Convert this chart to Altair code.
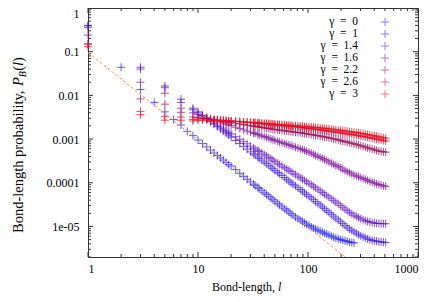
import altair as alt
import pandas as pd

FONT = "Liberation Serif"
PLUS = "M-1,0L1,0M0,-1L0,1"

gammas = ["0", "1", "1.4", "1.6", "2.2", "2.6", "3"]
colors = ["#1a1aff", "#3a12e6", "#6414c4", "#7c0c9c", "#9c0a5c", "#d40a3a", "#f0101e"]
legend_labels = ["\u03b3\u2002=\u20020", "\u03b3\u2002=\u20021", "\u03b3\u2002=\u20021.4", "\u03b3\u2002=\u20021.6",
                 "\u03b3\u2002=\u20022.2", "\u03b3\u2002=\u20022.6", "\u03b3\u2002=\u20023"]

l_small_g0 = [1, 2, 3, 4, 5, 6, 7, 8, 9]
l_small = [1, 3, 5, 7, 9]
l_dense = [10, 11, 12, 13, 14, 15, 16, 17, 18, 19, 20, 22, 24, 26, 28,
           30, 32, 33, 35, 36, 38, 40, 42, 44, 46, 48, 50, 53, 55, 58, 61, 64, 67, 70, 73,
           77, 81, 85, 89, 93, 97, 102, 107, 112, 117, 123, 129, 135, 141, 148, 155, 163, 171, 179, 188,
           197, 207, 217, 227, 238, 250, 262, 275, 288, 302, 317, 332, 348, 365, 383, 401, 420,
           441, 462, 485, 508]

p_g0_small = [0.40, 0.044, 0.0137, 0.0069, 0.0042, 0.0028, 0.0021, 0.0015, 0.0012]
p_g0 = [9.5e-4, 7.9e-4, 6.6e-4, 5.6e-4, 4.8e-4, 4.2e-4, 3.7e-4, 3.3e-4, 2.9e-4, 2.6e-4, 2.4e-4,
        2.0e-4, 1.65e-4, 1.4e-4, 1.2e-4,
        1.05e-4, 9.3e-5, 8.7e-5, 7.8e-5, 7.3e-5, 6.6e-5, 5.9e-5, 5.4e-5, 4.9e-5, 4.5e-5,
        4.1e-5, 3.8e-5, 3.4e-5, 3.1e-5, 2.8e-5, 2.55e-5, 2.35e-5, 2.15e-5, 1.95e-5, 1.8e-5,
        1.65e-5, 1.52e-5, 1.4e-5, 1.3e-5, 1.2e-5, 1.12e-5, 1.05e-5, 9.8e-6, 9.2e-6, 8.7e-6,
        8.2e-6, 7.8e-6, 7.4e-6, 7.0e-6, 6.7e-6, 6.3e-6, 6.0e-6, 5.7e-6, 5.4e-6, 5.2e-6,
        5.0e-6, 4.85e-6, 4.7e-6, 4.55e-6, 4.4e-6, 4.3e-6, 4.2e-6]

p_g1_small = [0.39, 0.044, 0.0164, 0.0082, 0.0051]
p_g1 = [4.2e-3, 3.5e-3, 2.96e-3, 2.5e-3, 2.2e-3, 1.93e-3, 1.7e-3, 1.52e-3, 1.36e-3, 1.23e-3, 1.11e-3,
        9.3e-4, 7.9e-4, 6.8e-4, 5.9e-4,
        5.1e-4, 4.6e-4, 4.3e-4, 3.9e-4, 3.6e-4, 3.3e-4, 3.0e-4, 2.75e-4, 2.5e-4, 2.3e-4,
        2.1e-4, 1.9e-4, 1.73e-4, 1.6e-4, 1.46e-4, 1.32e-4, 1.2e-4, 1.1e-4, 1.0e-4, 9.2e-5,
        8.5e-5, 7.7e-5, 7.0e-5, 6.4e-5, 5.9e-5, 5.4e-5, 4.9e-5, 4.5e-5, 4.1e-5, 3.7e-5,
        3.4e-5, 3.1e-5, 2.8e-5, 2.55e-5, 2.3e-5, 2.1e-5, 1.9e-5, 1.72e-5, 1.55e-5, 1.41e-5,
        1.28e-5, 1.16e-5, 1.05e-5, 9.6e-6, 8.8e-6, 8.1e-6, 7.5e-6,
        7.0e-6, 6.5e-6, 6.1e-6, 5.8e-6, 5.5e-6, 5.2e-6, 5.0e-6, 4.8e-6, 4.7e-6, 4.6e-6,
        4.5e-6, 4.4e-6, 4.35e-6, 4.3e-6]

p_g14_small = [0.36, 0.040, 0.015, 0.0069, 0.0047]
p_g14 = [3.96e-3, 3.4e-3, 2.96e-3, 2.6e-3, 2.3e-3, 2.07e-3, 1.87e-3, 1.7e-3, 1.55e-3, 1.42e-3, 1.31e-3,
         1.13e-3, 9.9e-4, 8.7e-4, 7.8e-4,
         6.9e-4, 6.3e-4, 5.9e-4, 5.5e-4, 5.2e-4, 4.8e-4, 4.4e-4, 4.1e-4, 3.8e-4, 3.55e-4,
         3.3e-4, 3.05e-4, 2.8e-4, 2.6e-4, 2.4e-4, 2.22e-4, 2.07e-4, 1.93e-4, 1.8e-4, 1.66e-4,
         1.54e-4, 1.42e-4, 1.31e-4, 1.22e-4, 1.13e-4, 1.05e-4, 9.7e-5, 9.0e-5, 8.3e-5, 7.7e-5,
         7.1e-5, 6.5e-5, 6.0e-5, 5.5e-5, 5.1e-5, 4.7e-5, 4.3e-5, 3.9e-5, 3.6e-5, 3.3e-5,
         3.0e-5, 2.75e-5, 2.5e-5, 2.3e-5, 2.1e-5, 1.95e-5, 1.8e-5,
         1.7e-5, 1.6e-5, 1.5e-5, 1.42e-5, 1.36e-5, 1.3e-5, 1.26e-5, 1.22e-5, 1.2e-5, 1.18e-5,
         1.17e-5, 1.16e-5, 1.155e-5, 1.15e-5]

p_g16_small = [0.24, 0.020, 0.0112, 0.0051, 0.0040]
p_g16 = [3.66e-3, 3.37e-3, 3.13e-3, 2.92e-3, 2.75e-3, 2.59e-3, 2.45e-3, 2.33e-3, 2.22e-3, 2.12e-3, 2.03e-3,
         1.87e-3, 1.74e-3, 1.63e-3, 1.53e-3,
         1.45e-3, 1.39e-3, 1.34e-3, 1.29e-3, 1.24e-3, 1.19e-3, 1.14e-3, 1.1e-3, 1.05e-3, 1.01e-3,
         9.7e-4, 9.3e-4, 8.9e-4, 8.6e-4, 8.3e-4, 7.9e-4, 7.6e-4, 7.35e-4, 7.1e-4, 6.8e-4,
         6.5e-4, 6.25e-4, 6.0e-4, 5.75e-4, 5.5e-4, 5.25e-4, 5.0e-4, 4.75e-4, 4.5e-4, 4.25e-4,
         4.0e-4, 3.8e-4, 3.6e-4, 3.4e-4, 3.2e-4, 3.0e-4, 2.8e-4, 2.65e-4, 2.5e-4, 2.35e-4,
         2.2e-4, 2.05e-4, 1.9e-4, 1.8e-4, 1.7e-4, 1.6e-4, 1.5e-4,
         1.43e-4, 1.37e-4, 1.31e-4, 1.25e-4, 1.19e-4, 1.13e-4, 1.08e-4, 1.03e-4, 9.9e-5, 9.5e-5,
         9.1e-5, 8.8e-5, 8.5e-5, 8.3e-5]

p_g22_small = [0.15, 0.0083, 0.0063, 0.0041, 0.0032]
p_g22 = [3.1e-3, 3.0e-3, 2.9e-3, 2.8e-3, 2.7e-3, 2.65e-3, 2.6e-3, 2.55e-3, 2.5e-3, 2.45e-3, 2.4e-3,
         2.3e-3, 2.22e-3, 2.15e-3, 2.08e-3,
         2.02e-3, 1.98e-3, 1.95e-3, 1.91e-3, 1.88e-3, 1.84e-3, 1.8e-3, 1.77e-3, 1.74e-3, 1.71e-3,
         1.68e-3, 1.65e-3, 1.62e-3, 1.6e-3, 1.57e-3, 1.55e-3, 1.52e-3, 1.5e-3, 1.48e-3, 1.46e-3,
         1.44e-3, 1.42e-3, 1.40e-3, 1.37e-3, 1.35e-3, 1.32e-3, 1.3e-3, 1.27e-3, 1.25e-3, 1.22e-3,
         1.2e-3, 1.17e-3, 1.15e-3, 1.12e-3, 1.1e-3, 1.07e-3, 1.04e-3, 1.01e-3, 9.9e-4, 9.6e-4,
         9.3e-4, 9.0e-4, 8.8e-4, 8.5e-4, 8.3e-4, 8.0e-4, 7.8e-4,
         7.55e-4, 7.3e-4, 7.05e-4, 6.8e-4, 6.55e-4, 6.3e-4, 6.1e-4, 5.9e-4, 5.7e-4, 5.5e-4,
         5.35e-4, 5.2e-4, 5.1e-4, 5.0e-4]

p_g26_small = [0.15, 0.0043, 0.0033, 0.0032, 0.0028]
p_g26 = [2.9e-3, 2.9e-3, 2.85e-3, 2.8e-3, 2.8e-3, 2.75e-3, 2.7e-3, 2.7e-3, 2.65e-3, 2.6e-3, 2.6e-3,
         2.55e-3, 2.5e-3, 2.45e-3, 2.4e-3,
         2.38e-3, 2.35e-3, 2.33e-3, 2.3e-3, 2.28e-3, 2.25e-3, 2.22e-3, 2.2e-3, 2.17e-3, 2.15e-3,
         2.13e-3, 2.1e-3, 2.08e-3, 2.05e-3, 2.03e-3, 2.0e-3, 1.98e-3, 1.96e-3, 1.94e-3, 1.92e-3,
         1.9e-3, 1.87e-3, 1.85e-3, 1.82e-3, 1.8e-3, 1.77e-3, 1.75e-3, 1.72e-3, 1.7e-3, 1.67e-3,
         1.65e-3, 1.62e-3, 1.6e-3, 1.57e-3, 1.55e-3, 1.52e-3, 1.5e-3, 1.47e-3, 1.45e-3, 1.42e-3,
         1.4e-3, 1.37e-3, 1.35e-3, 1.32e-3, 1.3e-3, 1.27e-3, 1.25e-3,
         1.22e-3, 1.2e-3, 1.17e-3, 1.15e-3, 1.12e-3, 1.1e-3, 1.07e-3, 1.05e-3, 1.02e-3, 1.0e-3,
         9.7e-4, 9.5e-4, 9.2e-4, 9.0e-4]

p_g3_small = [0.13, 0.0036, 0.0027, 0.0027, 0.0026]
p_g3 = [2.7e-3, 2.7e-3, 2.7e-3, 2.7e-3, 2.7e-3, 2.68e-3, 2.66e-3, 2.64e-3, 2.62e-3, 2.6e-3, 2.58e-3,
        2.55e-3, 2.52e-3, 2.49e-3, 2.46e-3,
        2.43e-3, 2.41e-3, 2.39e-3, 2.37e-3, 2.35e-3, 2.32e-3, 2.3e-3, 2.28e-3, 2.26e-3, 2.24e-3,
        2.22e-3, 2.2e-3, 2.18e-3, 2.16e-3, 2.14e-3, 2.12e-3, 2.1e-3, 2.08e-3, 2.06e-3, 2.04e-3,
        2.02e-3, 2.0e-3, 1.98e-3, 1.96e-3, 1.94e-3, 1.92e-3, 1.9e-3, 1.88e-3, 1.86e-3, 1.84e-3,
        1.82e-3, 1.8e-3, 1.77e-3, 1.75e-3, 1.73e-3, 1.7e-3, 1.68e-3, 1.65e-3, 1.63e-3, 1.6e-3,
        1.58e-3, 1.55e-3, 1.53e-3, 1.5e-3, 1.48e-3, 1.45e-3, 1.43e-3,
        1.4e-3, 1.38e-3, 1.35e-3, 1.33e-3, 1.3e-3, 1.27e-3, 1.24e-3, 1.21e-3, 1.18e-3, 1.16e-3,
        1.13e-3, 1.1e-3, 1.07e-3, 1.05e-3]

fit_l = [1, 230]
fit_p = [0.095, 1.8e-6]

x_major = [1, 10, 100, 1000]
x_minor = [2, 3, 4, 5, 6, 7, 8, 9, 20, 30, 40, 50, 60, 70, 80, 90,
           200, 300, 400, 500, 600, 700, 800, 900]
y_major = [1e-5, 1e-4, 1e-3, 1e-2, 1e-1, 1]
y_minor = [m * d for d in [1e-6, 1e-5, 1e-4, 1e-3, 1e-2, 1e-1] for m in range(2, 10)]

rows = []
def add(g, ls, ps):
    assert len(ls) == len(ps), g
    for l, p in zip(ls, ps):
        rows.append({"l": l, "p": p, "gamma": g})

add("0", l_small_g0 + l_dense[:len(p_g0)], p_g0_small + p_g0)
add("1", l_small + l_dense, p_g1_small + p_g1)
add("1.4", l_small + l_dense, p_g14_small + p_g14)
add("1.6", l_small + l_dense, p_g16_small + p_g16)
add("2.2", l_small + l_dense, p_g22_small + p_g22)
add("2.6", l_small + l_dense, p_g26_small + p_g26)
add("3", l_small + l_dense, p_g3_small + p_g3)
df = pd.DataFrame(rows)
leg_df = pd.DataFrame({"gamma": gammas, "label": legend_labels})

W, H = 330, 249
xs = alt.Scale(type="log", domain=[1, 1000], nice=False)
ys = alt.Scale(type="log", domain=[2e-6, 1], nice=False)
cs = alt.Scale(domain=gammas, range=colors)
x_axis = alt.Axis(values=x_major, format="d", ticks=False, domain=False, grid=False,
                  labelFont=FONT, labelFontSize=12, labelColor="black", labelPadding=6, title=None)
y_axis = alt.Axis(values=y_major, labelExpr="datum.value < 5e-5 ? '1e-05' : toString(datum.value)",
                  ticks=False, domain=False, grid=False, labelFont=FONT, labelFontSize=12,
                  labelColor="black", labelPadding=9, labelFlush=True, title=None)

points = alt.Chart(df).mark_point(shape=PLUS, filled=False, size=64, strokeWidth=1, opacity=0.72).encode(
    x=alt.X("l:Q", scale=xs, axis=x_axis),
    y=alt.Y("p:Q", scale=ys, axis=y_axis),
    color=alt.Color("gamma:N", scale=cs, legend=None),
)

fit = alt.Chart(pd.DataFrame({"l": fit_l, "p": fit_p})).mark_line(
    color="#ff8c50", strokeDash=[3, 2], strokeWidth=1, clip=True).encode(
    x=alt.X("l:Q", scale=xs, axis=x_axis), y=alt.Y("p:Q", scale=ys, axis=y_axis))

def xticks(vals, length):
    d = pd.DataFrame({"l": vals})
    bot = alt.Chart(d).mark_rule(color="#333333", strokeWidth=1).encode(
        x=alt.X("l:Q", scale=xs, axis=x_axis), y=alt.value(H), y2=alt.value(H - length))
    top = alt.Chart(d).mark_rule(color="#333333", strokeWidth=1).encode(
        x=alt.X("l:Q", scale=xs, axis=x_axis), y=alt.value(0), y2=alt.value(length))
    return [bot, top]

def yticks(vals, length):
    d = pd.DataFrame({"p": vals})
    left = alt.Chart(d).mark_rule(color="#333333", strokeWidth=1).encode(
        y=alt.Y("p:Q", scale=ys, axis=y_axis), x=alt.value(0), x2=alt.value(length))
    right = alt.Chart(d).mark_rule(color="#333333", strokeWidth=1).encode(
        y=alt.Y("p:Q", scale=ys, axis=y_axis), x=alt.value(W), x2=alt.value(W - length))
    return [left, right]

one = pd.DataFrame({"a": [0]})
def txt(s, x, y, italic=False, size=12, angle=0):
    return alt.Chart(one).mark_text(text=s, font=FONT, fontSize=size, color="black",
                                    fontStyle="italic" if italic else "normal",
                                    angle=angle, align="left", baseline="alphabetic").encode(
        x=alt.value(x), y=alt.value(y))

# axis titles
xt = [txt("Bond-length, ", 124, 283), txt("l", 190, 283, italic=True)]
TS = 14.5
YX = -65
Ys = 225
yt = [txt("Bond-length probability, ", YX, Ys, size=TS, angle=270),
      txt("P", YX, Ys - 10.139 * TS, italic=True, size=TS, angle=270),
      txt("B", YX + 3, Ys - 10.75 * TS, italic=True, size=10, angle=270),
      txt("(", YX, Ys - 10.75 * TS - 6.3, size=TS, angle=270),
      txt("l", YX, Ys - 11.083 * TS - 6.3, italic=True, size=TS, angle=270),
      txt(")", YX, Ys - 11.361 * TS - 6.3, size=TS, angle=270)]

main = alt.layer(*(xticks(x_major, 5) + xticks(x_minor, 3) + yticks(y_major, 5) + yticks(y_minor, 3)
                   + [points, fit] + xt + yt))

leg_y = alt.Y("gamma:N", scale=alt.Scale(domain=gammas, range=[8, 92]), axis=None)
leg_text = alt.Chart(leg_df).mark_text(font=FONT, fontSize=11.5, color="black", align="right",
                                       baseline="middle").encode(
    x=alt.value(270), y=leg_y, text="label:N")
leg_sym = alt.Chart(leg_df).mark_point(shape=PLUS, filled=False, size=64, strokeWidth=1, opacity=0.55).encode(
    x=alt.value(297), y=leg_y, color=alt.Color("gamma:N", scale=cs, legend=None))
legend = alt.layer(leg_text, leg_sym)

chart = alt.layer(main, legend).resolve_scale(y="independent").properties(
    width=W, height=H,
    autosize=alt.AutoSizeParams(type="none"),
    padding={"left": 80, "top": 0, "right": 10, "bottom": 37},
).configure_view(stroke="#333333", strokeWidth=1)

chart.save("out.html", embed_options={"renderer": "svg", "actions": False})
